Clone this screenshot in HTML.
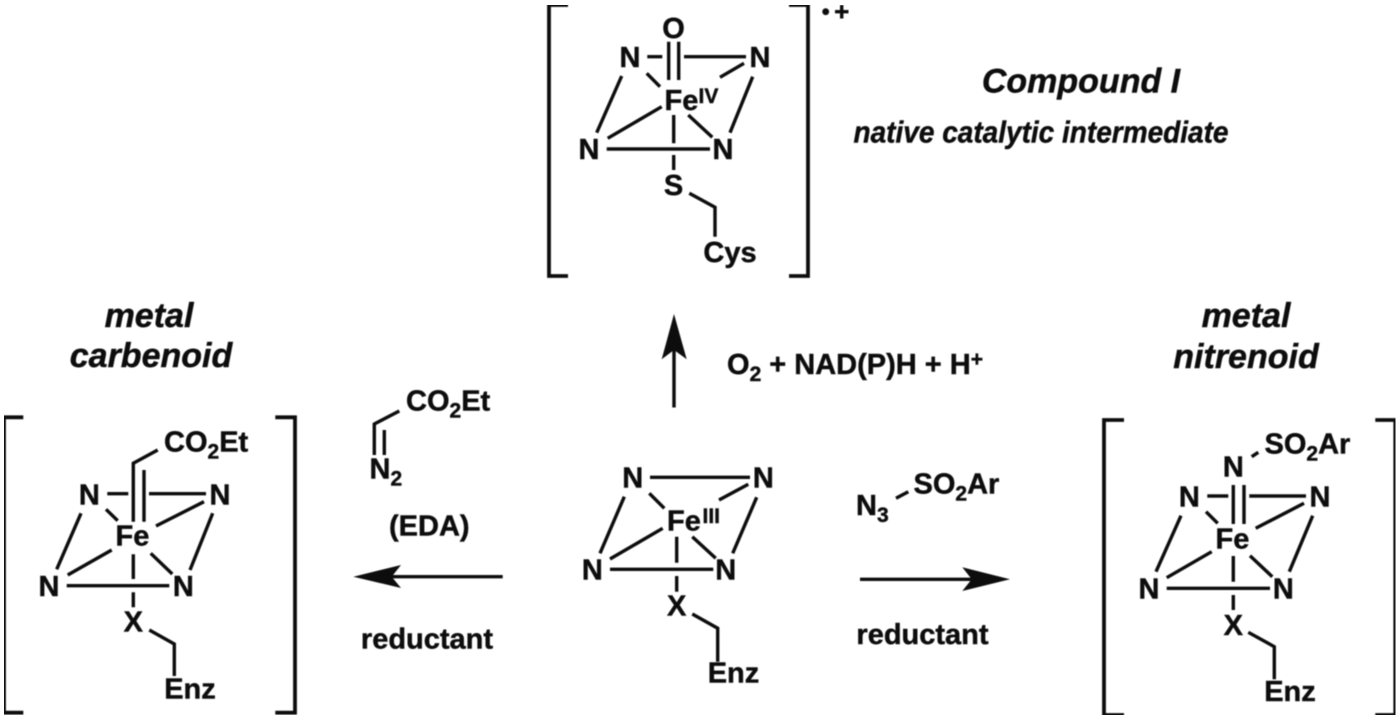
<!DOCTYPE html>
<html><head><meta charset="utf-8"><style>
html,body{margin:0;padding:0;background:#fff;width:1400px;height:721px;overflow:hidden}
svg{display:block}
text{font-family:"Liberation Sans",Arial,sans-serif;font-weight:bold;font-size:29px;fill:#111;stroke:#111;stroke-width:.45}
.i{font-style:italic;font-size:34px}
.n{font-style:italic;font-size:31px}
.m{text-anchor:middle}
.s{font-size:21px}
path,line,polyline{fill:none;stroke:#111;stroke-width:3.4}
.b{stroke-width:3.8}
polygon{fill:#111;stroke:none}
</style></head><body>
<svg width="1400" height="721" viewBox="0 0 1400 721" xmlns="http://www.w3.org/2000/svg">
<defs><filter id="f" x="0" y="0" width="100%" height="100%"><feGaussianBlur stdDeviation="0.6"/></filter></defs>
<g filter="url(#f)">
<!-- Top: Compound I -->
<path class="b" d="M568 5H549V276H568M789 5H808V276H789"/>
<path d="M668.7 41.7V80M678.7 41.7V80M647.3 56.7H662.3M684 56.7H746M646.7 73.3L660 86.7M744 63.3L720 77.3M621.7 76L596.7 132.7M752.7 76.7L730 132.7M607.7 138.3L661.7 106.7M712.3 137.3L688.3 115M673.7 115V143.3M606.7 149H710M673.7 155V170M689.3 193.3L715 207.3V236.7"/>
<text class="m" x="673.5" y="38">O</text>
<text class="m" x="630" y="67">N</text>
<text class="m" x="760" y="67">N</text>
<text class="m" x="589" y="159">N</text>
<text class="m" x="723" y="159">N</text>
<text x="664.5" y="110">Fe</text>
<text class="s" x="698.5" y="103">IV</text>
<text class="m" x="673.5" y="195">S</text>
<text class="m" x="730" y="262">Cys</text>
<circle cx="825.7" cy="11.7" r="3.4" fill="#111"/>
<path d="M835 11.7H848.5M841.7 5V18.5"/>
<text class="i m" x="1081" y="92.3">Compound I</text>
<text class="n" x="853.5" y="142.3" textLength="375" lengthAdjust="spacingAndGlyphs">native catalytic intermediate</text>
<!-- Up arrow -->
<line x1="674" y1="345" x2="674" y2="407.5"/>
<polygon points="674,314 686.7,359.3 674,350 661.7,359.3"/>
<text x="727" y="374">O<tspan class="s" dy="7">2</tspan><tspan dy="-7"> + NAD(P)H + H</tspan><tspan class="s" dy="-8">+</tspan></text>
<!-- Labels -->
<text class="i m" x="149" y="327">metal</text>
<text class="i m" x="151" y="367">carbenoid</text>
<text class="i m" x="1246" y="327">metal</text>
<text class="i m" x="1246" y="368">nitrenoid</text>
<!-- Left reagents -->
<path d="M399.3 411L374.3 424V455M384.3 430V455"/>
<text x="406" y="410.7">CO<tspan class="s" dy="7">2</tspan><tspan dy="-7">Et</tspan></text>
<text x="369.5" y="478.3">N<tspan class="s" dy="7">2</tspan></text>
<text class="m" x="429.3" y="535.7">(EDA)</text>
<line x1="385" y1="576.7" x2="502.7" y2="576.7"/>
<polygon points="353.3,576.7 401,565 391.7,576.7 401,588"/>
<text class="m" x="427" y="648.3">reductant</text>
<!-- Right reagents -->
<text x="856" y="515">N<tspan class="s" dy="7">3</tspan></text>
<line x1="896" y1="498.3" x2="908.3" y2="491.7"/>
<text x="913.5" y="493.3">SO<tspan class="s" dy="7">2</tspan><tspan dy="-7">Ar</tspan></text>
<line x1="860" y1="579.3" x2="978" y2="579.3"/>
<polygon points="1010,579.3 962.3,567.3 971.7,579.3 962.3,591"/>
<text class="m" x="922.5" y="644">reductant</text>
<!-- Center -->
<path d="M650 477.3H750M649.3 493.3L664.3 508.3M748.3 484.3L719 500M624.3 496.7L600 553.3M756.7 497.3L732.7 553.3M610 559L662.7 528.3M715.7 558.3L692.3 536.7M676.7 536.7V562.7M610 569.3H713.3M676.7 576V591.7M692.3 614L717.7 628.3V661.7"/>
<text class="m" x="632.7" y="487.3">N</text>
<text class="m" x="763.3" y="487.3">N</text>
<text class="m" x="592.3" y="579.3">N</text>
<text class="m" x="725.7" y="579.3">N</text>
<text x="667" y="530.7">Fe</text>
<text class="s" x="702.5" y="523">III</text>
<text class="m" x="676.7" y="615.7">X</text>
<text class="m" x="733.5" y="682.7">Enz</text>
<!-- Left: carbenoid -->
<path class="b" d="M23.3 417.3H4V712.7H23.3M275.3 417.3H295V712.7H275.3"/>
<path d="M157.7 450L133.3 463.3V521.7M144 470V521.7M107.3 493.7H128.3M149 493.7H206M106 509.3L117.7 520.7M204 501.7L156 526M81 513.3L56.7 569.3M212.7 513.3L190 570M67.7 575L111.7 550M172.3 574L150.7 553.3M133.3 554.3V579M66.7 585.7H169.3M133.3 592.3V607.3M149.3 630L174.3 644V676"/>
<text x="164" y="451.7">CO<tspan class="s" dy="7">2</tspan><tspan dy="-7">Et</tspan></text>
<text class="m" x="89.3" y="504.3">N</text>
<text class="m" x="220" y="504.3">N</text>
<text class="m" x="49" y="596">N</text>
<text class="m" x="183.3" y="596">N</text>
<text x="115.5" y="545.7">Fe</text>
<text class="m" x="133.3" y="631.7">X</text>
<text class="m" x="190" y="698.3">Enz</text>
<!-- Right: nitrenoid -->
<path class="b" d="M1124 420H1104V715H1124M1375.3 420H1395.3V715H1375.3"/>
<path d="M1251.7 456.7L1258.3 452.3M1233.3 485V524M1244 485V524M1207.3 496H1228.3M1249.3 496H1306M1206 511.7L1217.7 523.3M1304 503.3L1255.7 528.3M1181 515.7L1156 571.7M1312.7 515.7L1289.3 571.7M1166.7 577.7L1211.7 551.7M1272.3 576.7L1250 555.7M1233.3 556V581.7M1166.7 588.3H1270M1233.3 595V610M1248.3 632.3L1274.3 646.7V679.3"/>
<text class="m" x="1233.3" y="476.7">N</text>
<text x="1264.5" y="453.3">SO<tspan class="s" dy="7">2</tspan><tspan dy="-7">Ar</tspan></text>
<text class="m" x="1189.3" y="506.7">N</text>
<text class="m" x="1320" y="506.7">N</text>
<text class="m" x="1149" y="598.3">N</text>
<text class="m" x="1283.3" y="598.3">N</text>
<text x="1215.5" y="548.3">Fe</text>
<text class="m" x="1233.3" y="635">X</text>
<text class="m" x="1290" y="701">Enz</text>
</g>
</svg>
</body></html>
